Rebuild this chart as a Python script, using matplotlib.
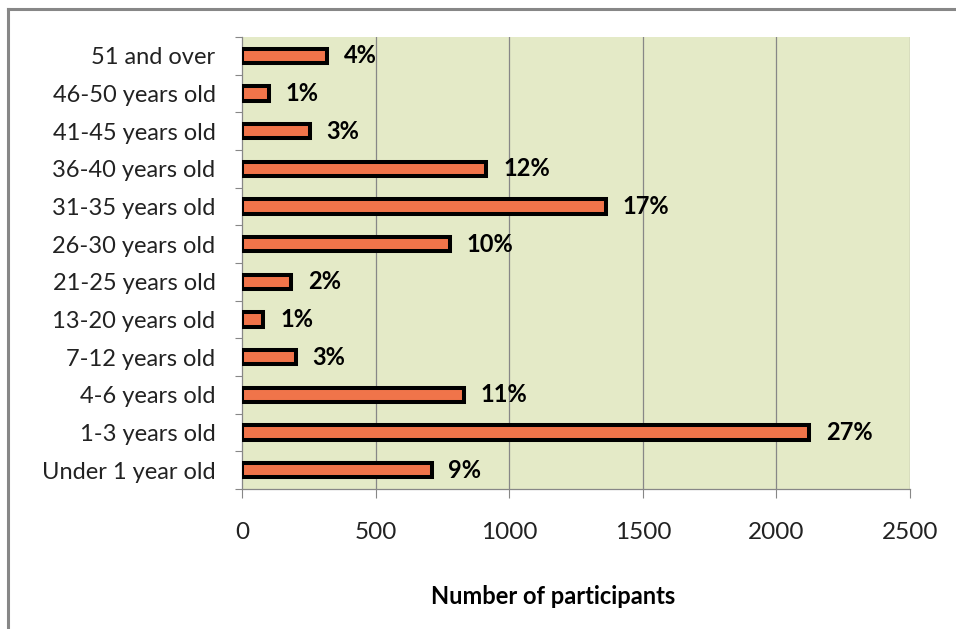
import matplotlib
matplotlib.use('Agg')
import matplotlib.pyplot as plt
from matplotlib.lines import Line2D
import numpy as np

# participants by age group (bottom to top)
groups = ['Under 1 year old', '1-3 years old', '4-6 years old', '7-12 years old',
          '13-20 years old', '21-25 years old', '26-30 years old', '31-35 years old',
          '36-40 years old', '41-45 years old', '46-50 years old', '51 and over']
participants = [710, 2123, 830, 202, 80, 185, 778, 1361, 915, 254, 100, 318]
shares = ['9%', '27%', '11%', '3%', '1%', '2%', '10%', '17%', '12%', '3%', '1%', '4%']
xticks = [0, 500, 1000, 1500, 2000, 2500]

plt.rcParams['font.family'] = ['Lato', 'DejaVu Sans']

W, H = 956, 629
fig = plt.figure(figsize=(W / 100, H / 100), dpi=100)
ax = fig.add_axes([242 / W, (H - 489) / H, 668 / W, 452 / H])

grey = '#878787'
ax.set_facecolor('#e4eac7')
y = np.arange(len(groups))
ax.barh(y, participants, height=0.38, color='#f0744a', edgecolor='black', linewidth=2.9, zorder=3)

for yi, v, s in zip(y, participants, shares):
    ax.annotate(s, (v, yi), xytext=(12, 0), textcoords='offset points',
                va='center', ha='left', fontsize=17, fontweight='bold', zorder=4)

ax.set_xlim(0, 2500)
ax.set_ylim(-0.5, len(groups) - 0.5)
ax.set_xticks(xticks)
ax.set_xticklabels([str(t) for t in xticks], fontsize=17.5, color='#222222')
ax.tick_params(axis='x', direction='out', length=6.5, width=0.8, color=grey, pad=17)
for t in xticks[1:]:
    ax.axvline(t, color=grey, lw=0.9, zorder=1)

ax.set_yticks(y)
ax.set_yticklabels(groups, fontsize=17, color='#222222')
ax.tick_params(axis='y', which='major', length=0, pad=19)
ax.set_yticks(np.arange(len(groups) + 1) - 0.5, minor=True)
ax.tick_params(axis='y', which='minor', direction='out', length=5, width=0.8, color=grey)

for side in ['top', 'right']:
    ax.spines[side].set_visible(False)
for side in ['left', 'bottom']:
    ax.spines[side].set_color(grey)
    ax.spines[side].set_linewidth(0.9)

fig.text(553 / W, 1 - 597 / H, 'Number of participants', ha='center', va='center',
         fontsize=17, fontweight='bold')

# chart frame: only the top and left edges are visible
fig.add_artist(Line2D([7.5 / W, 1], [1 - 9 / H, 1 - 9 / H], color=grey, lw=2.2))
fig.add_artist(Line2D([7.5 / W, 7.5 / W], [0, 1 - 9 / H], color=grey, lw=2.2))

fig.savefig('out.png', dpi=100)
